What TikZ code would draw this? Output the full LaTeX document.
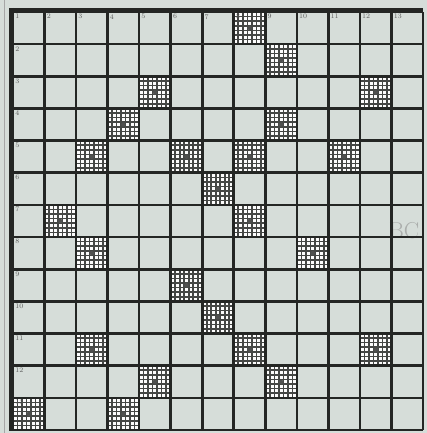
\documentclass[tikz,border=0pt]{standalone}
\usepackage{tikz}
\definecolor{paper}{RGB}{214,221,217}
\definecolor{ink}{RGB}{36,38,36}

\begin{document}
\begin{tikzpicture}[x=1pt,y=-1pt,
		gridline/.style={ink,line width=2.6pt},
		hatchline/.style={ink!85,line width=1.6pt},
		numlabel/.style={font=\fontsize{7}{7}\selectfont,text=ink!75,inner sep=0.6pt,anchor=north west}]
		\def\cw{31.54}\def\ch{32.15}
		% paper
		\fill[paper] (0,0) rectangle (427,433);
		\useasboundingbox (0,0) rectangle (427,433);
		\draw[gray!70,line width=0.8pt] (4.5,0)--(4.5,433);    % page edge
		% faint print-through
		\node[text=gray!50!paper,font=\fontsize{23}{23}\selectfont] (bleed) at (404,231) {BC};
		% shaded cells (column/row)
		\foreach \c/\r in {8/1,9/2,5/3,12/3,4/4,9/4,3/5,6/5,8/5,11/5,7/6,2/7,8/7,
			3/8,10/8,6/9,7/10,3/11,8/11,12/11,5/12,9/12,1/13,4/13}{
			\pgfmathsetmacro{\xa}{13+(\c-1)*\cw}
			\pgfmathsetmacro{\ya}{12+(\r-1)*\ch}
			\fill[white!92!paper] (\xa,\ya) rectangle ++(\cw,\ch);
			\foreach \k in {1,...,6}{
				\draw[hatchline] ({\xa+\k*\cw/7},\ya) -- ++(0,\ch);
				\draw[hatchline] (\xa,{\ya+\k*\ch/7}) -- ++(\cw,0);
			}
			\fill[ink!80] ({\xa+\cw/2},{\ya+\ch/2}) circle (2.2);
		}
		% grid
		\foreach \i in {0,...,13}{
			\draw[gridline] ({13+\i*\cw},12) -- ({13+\i*\cw},430);
			\draw[gridline] (13,{12+\i*\ch}) -- (423,{12+\i*\ch});
		}
		% frame
		\draw[ink,line width=3.5pt] (13,10) -- (423,10);      % top edge
		\draw[ink,line width=5pt] (11,8) -- (11,431);         % left edge
		% column numbers
		\foreach \i in {1,...,13}
			\node[numlabel] (col\i) at ({13+(\i-1)*\cw+1.5},13.5) {\i};
		% row numbers
		\foreach \j in {2,...,13}
			\node[numlabel] (row\j) at (14.5,{12+(\j-1)*\ch+1.5}) {\j};
	\end{tikzpicture}
\end{document}
